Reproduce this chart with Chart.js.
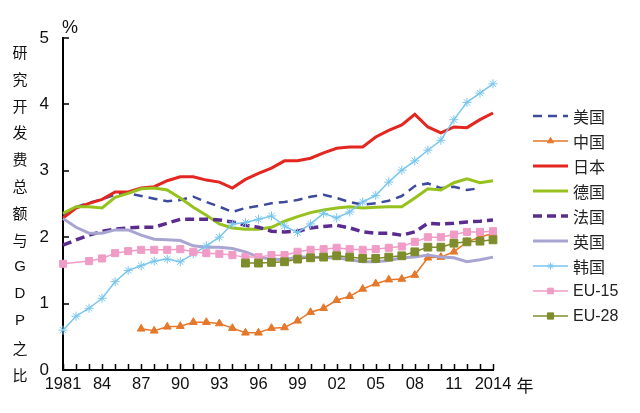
<!DOCTYPE html>
<html><head><meta charset="utf-8">
<script src="https://cdn.jsdelivr.net/npm/chart.js@4/dist/chart.umd.min.js"></script>
<style>html,body{margin:0;padding:0;background:#fff;}#wrap{width:640px;height:413px;position:relative;}</style>
</head><body><div id="wrap"><canvas id="c" width="640" height="413"></canvas></div>
<script>
// ---- data ----
const years = [];
for (let y = 1981; y <= 2014; y++) years.push(String(y));
const tickYears = ['1981','1984','1987','1990','1993','1996','1999','2002','2005','2008','2011','2014'];
const tickText  = ['1981','84','87','90','93','96','99','02','05','08','11','2014'];
const yTicks = [0,1,2,3,4,5];

const usa = [2.34,2.45,2.52,2.57,2.64,2.66,2.62,2.58,2.54,2.56,2.61,2.53,2.46,2.38,2.44,2.47,2.51,2.53,2.56,2.61,2.64,2.59,2.53,2.49,2.51,2.55,2.62,2.77,2.81,2.74,2.76,2.71,2.74,null];
const china = [null,null,null,null,null,null,0.62,0.59,0.65,0.66,0.72,0.72,0.70,0.63,0.56,0.56,0.63,0.64,0.74,0.87,0.93,1.05,1.11,1.22,1.30,1.36,1.37,1.43,1.69,1.70,1.78,1.93,2.00,2.06];
const japan = [2.29,2.44,2.51,2.57,2.68,2.68,2.74,2.76,2.85,2.91,2.91,2.86,2.83,2.74,2.87,2.96,3.04,3.15,3.15,3.19,3.27,3.34,3.36,3.36,3.51,3.61,3.69,3.85,3.66,3.57,3.66,3.65,3.77,3.87];
const germany = [2.36,2.46,2.46,2.44,2.60,2.66,2.73,2.74,2.71,2.59,2.45,2.33,2.20,2.14,2.12,2.12,2.15,2.24,2.31,2.37,2.41,2.44,2.46,2.44,2.45,2.46,2.46,2.59,2.73,2.71,2.82,2.88,2.82,2.85];
const france = [1.88,1.96,2.03,2.09,2.12,2.14,2.15,2.15,2.21,2.27,2.27,2.27,2.26,2.23,2.18,2.15,2.09,2.08,2.09,2.14,2.16,2.18,2.14,2.08,2.06,2.06,2.03,2.08,2.21,2.20,2.21,2.23,2.24,2.26];
const uk = [2.28,2.15,2.06,2.06,2.11,2.11,2.03,1.97,1.96,1.95,1.87,1.85,1.85,1.83,1.78,1.70,1.67,1.66,1.70,1.70,1.69,1.69,1.66,1.63,1.63,1.65,1.69,1.70,1.73,1.70,1.69,1.63,1.66,1.70];
const korea = [0.60,0.81,0.93,1.08,1.33,1.50,1.57,1.64,1.67,1.63,1.75,1.87,2.00,2.20,2.22,2.27,2.32,2.17,2.07,2.20,2.36,2.29,2.38,2.53,2.63,2.83,3.01,3.15,3.31,3.46,3.77,4.03,4.17,4.31];
const eu15 = [1.60,null,1.64,1.68,1.76,1.79,1.81,1.81,1.81,1.82,1.78,1.76,1.75,1.73,1.70,1.70,1.73,1.73,1.78,1.81,1.82,1.84,1.82,1.81,1.82,1.84,1.86,1.93,2.00,2.00,2.04,2.08,2.08,2.09];
const eu28 = [null,null,null,null,null,null,null,null,null,null,null,null,null,null,1.61,1.61,1.62,1.63,1.67,1.69,1.70,1.72,1.70,1.68,1.68,1.70,1.72,1.78,1.85,1.85,1.91,1.93,1.94,1.96];

const seriesNames = ['美国','中国','日本','德国','法国','英国','韩国','EU-15','EU-28'];
const seriesData = [usa, china, japan, germany, france, uk, korea, eu15, eu28];

// ---- styles ----
const styles = [
  {color:'#3E4A9E', width:2.5, dash:[9,6], point:false},
  {color:'#E5782A', width:1.5, dash:[], point:'triangle', r:4.5},
  {color:'#E3261F', width:3, dash:[], point:false},
  {color:'#97C21E', width:3, dash:[], point:false},
  {color:'#5A2C8E', width:3.5, dash:[9,5], point:false},
  {color:'#A9A5D3', width:3, dash:[], point:false},
  {color:'#78C6EE', width:1.5, dash:[], point:'star', r:4.5},
  {color:'#F09CC6', width:1.5, dash:[], point:'rect', r:5},
  {color:'#7E8C2C', width:1.5, dash:[], point:'rect', r:5.5}
];

const datasets = seriesNames.map((n,i)=>({
  label:n,
  data:seriesData[i],
  borderColor:styles[i].color,
  backgroundColor:styles[i].color,
  borderWidth:styles[i].width,
  borderDash:styles[i].dash,
  pointStyle:styles[i].point || 'circle',
  pointRadius:styles[i].point ? styles[i].r : 0,
  pointHoverRadius:0,
  pointBorderWidth:1,
  tension:0,
  spanGaps:true,
  order: 9 - i
}));

const SANS = "'Liberation Sans',Arial,sans-serif";
const CJK_FONT = "'Noto Sans CJK SC','Noto Sans',sans-serif";

const decor = {
  id:'decor',
  beforeDatasetsDraw(chart){
    const ctx = chart.ctx, xs = chart.scales.x, ys = chart.scales.y;
    const a = chart.chartArea;
    ctx.save();
    ctx.strokeStyle = '#000'; ctx.lineWidth = 1.5;
    ctx.beginPath();
    xs.ticks.forEach((t,i)=>{ const px = Math.round(xs.getPixelForTick(i))+0.5; ctx.moveTo(px, a.bottom); ctx.lineTo(px, a.bottom-6); });
    ys.ticks.forEach((t,i)=>{ const py = Math.round(ys.getPixelForTick(i)); ctx.moveTo(a.left, py); ctx.lineTo(a.left+6, py); });
    ctx.stroke();
    ctx.restore();
  },
  afterDraw(chart){
    const ctx = chart.ctx, xs = chart.scales.x, a = chart.chartArea;
    ctx.save();
    ctx.fillStyle = '#111';
    ctx.textAlign = 'center'; ctx.textBaseline = 'middle';
    ctx.font = "18px " + SANS;
    ctx.fillText('%', a.left + 7, 28);
    ctx.font = "17px " + CJK_FONT;
    ctx.fillText('年', xs.getPixelForValue(years.length-1) + 32, 386);
    const chars = Array.from('研究开发费总额与GDP之比');
    chars.forEach((ch,i)=>{
      const isLatin = /[A-Z]/.test(ch);
      ctx.font = isLatin ? "15px " + SANS : "15px " + CJK_FONT;
      ctx.fillText(ch, 20, 52 + i*26.9);
    });
    // legend
    const lx0 = 533, lx1 = 568, ly0 = 116, lstep = 25;
    chart.data.datasets.forEach((ds,i)=>{
      const y = ly0 + i*lstep;
      ctx.save();
      ctx.strokeStyle = ds.borderColor; ctx.lineWidth = ds.borderWidth;
      ctx.setLineDash(ds.borderDash || []);
      ctx.beginPath(); ctx.moveTo(lx0, y); ctx.lineTo(lx1, y); ctx.stroke();
      ctx.setLineDash([]);
      if (ds.pointRadius > 0) {
        ctx.fillStyle = ds.backgroundColor; ctx.strokeStyle = ds.borderColor; ctx.lineWidth = 1;
        Chart.helpers.drawPoint(ctx, {pointStyle: ds.pointStyle, rotation:0, radius: ds.pointRadius*0.8, borderWidth:1}, (lx0+lx1)/2, y);
      }
      ctx.restore();
      ctx.fillStyle = '#222'; ctx.textAlign = 'left'; ctx.textBaseline = 'middle';
      ctx.font = /[A-Z]/.test(ds.label) ? "16px " + SANS : "16px " + CJK_FONT;
      ctx.fillText(ds.label, 573, y+1);
    });
    ctx.restore();
  }
};

new Chart(document.getElementById('c'), {
  type:'line',
  data:{labels:years, datasets:datasets},
  options:{
    responsive:false,
    animation:false,
    devicePixelRatio:1,
    layout:{padding:{top:38,right:147,left:0,bottom:0}},
    plugins:{legend:{display:false}, tooltip:{enabled:false}},
    elements:{line:{borderCapStyle:'butt'}},
    scales:{
      x:{
        type:'category', offset:false,
        grid:{display:false, drawTicks:false},
        border:{display:true, color:'#000', width:2},
        ticks:{
          autoSkip:false, maxRotation:0, padding:5, color:'#111',
          font:{family:SANS, size:16.5},
          callback:function(v){ const l = this.getLabelForValue(v); const k = tickYears.indexOf(l); return k>=0 ? tickText[k] : ''; }
        },
        afterFit(s){ s.height = 43; }
      },
      y:{
        min:0, max:5,
        grid:{display:false, drawTicks:false},
        border:{display:true, color:'#000', width:2},
        ticks:{stepSize:1, padding:14, color:'#111', font:{family:SANS, size:17},
          callback:(v)=> yTicks.includes(v) ? String(v) : ''},
        afterFit(s){ s.width = 63; }
      }
    }
  },
  plugins:[decor]
});
</script>
</body></html>
